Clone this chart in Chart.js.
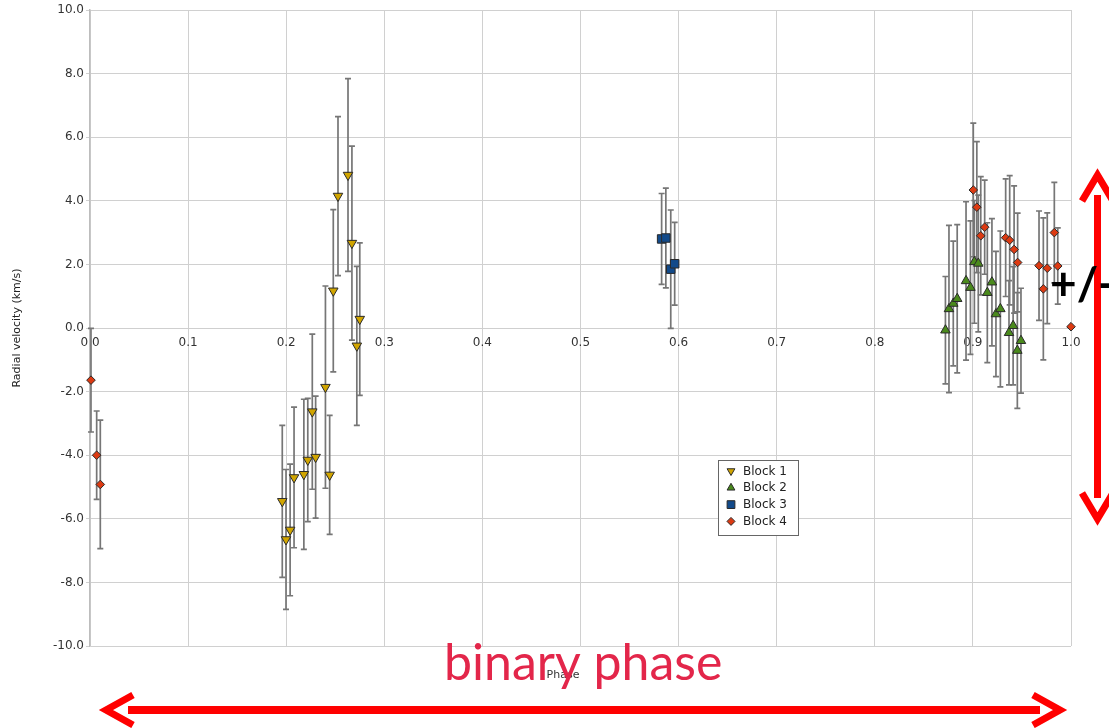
<!DOCTYPE html>
<html>
<head>
<meta charset="utf-8">
<title>Radial velocity vs phase</title>
<script src="https://cdn.jsdelivr.net/npm/chart.js@4.4.1/dist/chart.umd.min.js"></script>
<style>
  html, body { margin: 0; padding: 0; background: #fff; }
  #wrap { position: relative; width: 1109px; height: 728px; }
</style>
</head>
<body>
<div id="wrap"><canvas id="rv" width="1109" height="728"></canvas></div>
<script>
// Observation blocks: orbital phase, radial velocity (km/s) and 1-sigma error
const block1Phase = [0.196, 0.1998, 0.204, 0.208, 0.218, 0.222, 0.2266, 0.230, 0.240, 0.2443, 0.248, 0.2528, 0.263, 0.267, 0.272, 0.275];
const block1Rv    = [-5.45, -6.65, -6.35, -4.70, -4.60, -4.15, -2.63, -4.06, -1.86, -4.62, 1.17, 4.15, 4.81, 2.67, -0.56, 0.28];
const block1Err   = [2.39, 2.20, 2.07, 2.21, 2.36, 1.94, 2.44, 1.92, 3.18, 1.87, 2.55, 2.50, 3.03, 3.05, 2.50, 2.40];

const block2Phase = [0.872, 0.8756, 0.880, 0.884, 0.893, 0.8975, 0.9015, 0.9055, 0.9147, 0.9194, 0.9235, 0.928, 0.9368, 0.941, 0.9453, 0.949];
const block2Rv    = [-0.07, 0.60, 0.77, 0.92, 1.48, 1.27, 2.08, 2.03, 1.11, 1.44, 0.44, 0.60, -0.15, 0.07, -0.71, -0.40];
const block2Err   = [1.69, 2.63, 1.96, 2.33, 2.49, 2.10, 1.93, 2.15, 2.20, 2.00, 1.97, 2.45, 1.64, 1.86, 1.82, 1.65];

const block3Phase = [0.5827, 0.587, 0.592, 0.596];
const block3Rv    = [2.80, 2.83, 1.85, 2.02];
const block3Err   = [1.43, 1.57, 1.86, 1.30];

const block4Phase = [0.001, 0.0068, 0.0105, 0.9004, 0.904, 0.908, 0.912, 0.9334, 0.9375, 0.942, 0.9456, 0.9674, 0.9718, 0.9758, 0.983, 0.9865, 1.0];
const block4Rv    = [-1.64, -4.00, -4.92, 4.34, 3.80, 2.90, 3.17, 2.84, 2.76, 2.47, 2.06, 1.96, 1.23, 1.88, 3.00, 1.95, 0.04];
const block4Err   = [1.63, 1.39, 2.02, 2.10, 2.06, 1.86, 1.48, 1.85, 2.03, 2.00, 1.55, 1.72, 2.23, 1.74, 1.58, 1.20, 0];

const blockNames = ['Block 1', 'Block 2', 'Block 3', 'Block 4'];

const xAxisTitle = 'Phase';
const yAxisTitle = 'Radial velocity (km/s)';
const noteText = 'binary phase';
const errNoteText = '+/-';

function pairs(xs, ys) { return xs.map((x, i) => ({ x: x, y: ys[i] })); }

Chart.defaults.font.family = "'DejaVu Sans', sans-serif";
Chart.defaults.font.size = 12;
Chart.defaults.color = '#333';

const markerBorder = '#2a2a2a';

// Vertical error bars with small caps, drawn underneath the markers
const errorBars = {
  id: 'errorBars',
  beforeDatasetsDraw(chart) {
    const ctx = chart.ctx;
    const ys = chart.scales.y;
    ctx.save();
    ctx.strokeStyle = '#767676';
    ctx.lineWidth = 1.7;
    chart.data.datasets.forEach((ds, i) => {
      const meta = chart.getDatasetMeta(i);
      meta.data.forEach((pt, j) => {
        const e = ds.errors[j];
        if (!e) return;
        const v = ds.data[j].y;
        const top = ys.getPixelForValue(v + e);
        const bot = ys.getPixelForValue(v - e);
        const x = pt.x;
        ctx.beginPath();
        ctx.moveTo(x, top); ctx.lineTo(x, bot);
        ctx.moveTo(x - 3, top); ctx.lineTo(x + 3, top);
        ctx.moveTo(x - 3, bot); ctx.lineTo(x + 3, bot);
        ctx.stroke();
      });
    });
    ctx.restore();
  }
};

// Boxed legend placed inside the plot area
const boxLegend = {
  id: 'boxLegend',
  afterDatasetsDraw(chart) {
    const ctx = chart.ctx;
    const bx = 718.5, by = 460.5, bw = 80, bh = 75;
    ctx.save();
    ctx.fillStyle = '#fff';
    ctx.fillRect(bx, by, bw, bh);
    ctx.strokeStyle = '#666';
    ctx.lineWidth = 1;
    ctx.strokeRect(bx, by, bw, bh);
    ctx.font = "12px 'DejaVu Sans', sans-serif";
    ctx.textBaseline = 'middle';
    ctx.textAlign = 'left';
    chart.data.datasets.forEach((ds, i) => {
      const cy = 471 + i * 16.8;
      ctx.fillStyle = ds.backgroundColor;
      ctx.strokeStyle = ds.borderColor;
      ctx.lineWidth = 1;
      Chart.helpers.drawPoint(ctx, {
        pointStyle: ds.pointStyle,
        rotation: ds.rotation || 0,
        radius: ds.legendRadius,
        borderWidth: 1
      }, 731, cy);
      ctx.fillStyle = '#222';
      ctx.fillText(ds.label, 743, cy + 0.5);
    });
    ctx.restore();
  }
};

// Axis caption under the plot and the hand-drawn annotations
const notes = {
  id: 'notes',
  afterDraw(chart) {
    const ctx = chart.ctx;
    ctx.save();
    ctx.fillStyle = '#333';
    ctx.font = "11px 'DejaVu Sans', sans-serif";
    ctx.textAlign = 'center';
    ctx.textBaseline = 'middle';
    ctx.fillText(xAxisTitle, 563, 675);

    // red double arrows
    ctx.strokeStyle = '#ff0000';
    ctx.lineJoin = 'miter';
    ctx.lineCap = 'butt';
    ctx.lineWidth = 8;
    ctx.beginPath();
    ctx.moveTo(128, 710); ctx.lineTo(1040, 710);
    ctx.stroke();
    ctx.lineWidth = 7;
    ctx.beginPath();
    ctx.moveTo(133, 695); ctx.lineTo(106, 710); ctx.lineTo(133, 725);
    ctx.moveTo(1033, 695); ctx.lineTo(1060, 710); ctx.lineTo(1033, 725);
    ctx.stroke();
    ctx.beginPath();
    ctx.moveTo(1097.5, 195); ctx.lineTo(1097.5, 498);
    ctx.stroke();
    ctx.beginPath();
    ctx.moveTo(1082, 201); ctx.lineTo(1097.5, 175); ctx.lineTo(1113, 201);
    ctx.moveTo(1082, 493); ctx.lineTo(1097.5, 519); ctx.lineTo(1113, 493);
    ctx.stroke();

    ctx.textAlign = 'left';
    ctx.textBaseline = 'alphabetic';
    ctx.fillStyle = '#e3264a';
    ctx.font = "50px Lato, 'Open Sans', sans-serif";
    ctx.fillText(noteText, 444, 680);

    ctx.fillStyle = '#000';
    ctx.font = "bold 46px Lato, 'Open Sans', sans-serif";
    ctx.fillText(errNoteText, 1050, 300);
    ctx.restore();
  }
};

const datasets = [
  { label: blockNames[0], data: pairs(block1Phase, block1Rv), errors: block1Err,
    pointStyle: 'triangle', rotation: 180, pointRadius: 5.5, legendRadius: 4.5,
    backgroundColor: '#d1a500', borderColor: markerBorder },
  { label: blockNames[1], data: pairs(block2Phase, block2Rv), errors: block2Err,
    pointStyle: 'triangle', rotation: 0, pointRadius: 5.5, legendRadius: 4.5,
    backgroundColor: '#4a8a1c', borderColor: markerBorder },
  { label: blockNames[2], data: pairs(block3Phase, block3Rv), errors: block3Err,
    pointStyle: 'rect', rotation: 0, pointRadius: 6, legendRadius: 5.5,
    backgroundColor: '#124a8a', borderColor: markerBorder },
  { label: blockNames[3], data: pairs(block4Phase, block4Rv), errors: block4Err,
    pointStyle: 'rectRot', rotation: 0, pointRadius: 4.3, legendRadius: 4,
    backgroundColor: '#dc3a12', borderColor: markerBorder }
].map(ds => Object.assign(ds, {
  pointRotation: ds.rotation,
  pointBorderWidth: 1,
  pointHoverRadius: ds.pointRadius,
  showLine: false,
  clip: false
}));

new Chart(document.getElementById('rv'), {
  type: 'scatter',
  data: { datasets: datasets },
  options: {
    responsive: false,
    animation: false,
    devicePixelRatio: 1,
    layout: { padding: { top: 10, right: 38, bottom: 82, left: 0 } },
    plugins: { legend: { display: false }, tooltip: { enabled: false } },
    scales: {
      x: {
        type: 'linear',
        min: 0, max: 1,
        position: { y: 0 },
        afterFit(s) { s.height = 0; },
        grid: { color: '#d0d0d0', lineWidth: 1, tickLength: 5 },
        border: { color: '#cfcfcf', width: 1 },
        ticks: {
          stepSize: 0.1, padding: 3, maxRotation: 0,
          color: '#333', font: { size: 12 },
          callback: v => Number(v).toFixed(1)
        }
      },
      y: {
        type: 'linear',
        min: -10, max: 10,
        position: 'left',
        afterFit(s) { s.width = 90; },
        grid: { color: '#d0d0d0', lineWidth: 1, tickLength: 4 },
        border: { color: '#bdbdbd', width: 1.5 },
        ticks: {
          stepSize: 2, padding: 2,
          color: '#333', font: { size: 12 },
          callback: v => Number(v).toFixed(1)
        },
        title: {
          display: true, text: yAxisTitle, color: '#222',
          font: { size: 11 }, padding: { top: 11, bottom: 0 }
        }
      }
    }
  },
  plugins: [errorBars, boxLegend, notes]
});
</script>
</body>
</html>
